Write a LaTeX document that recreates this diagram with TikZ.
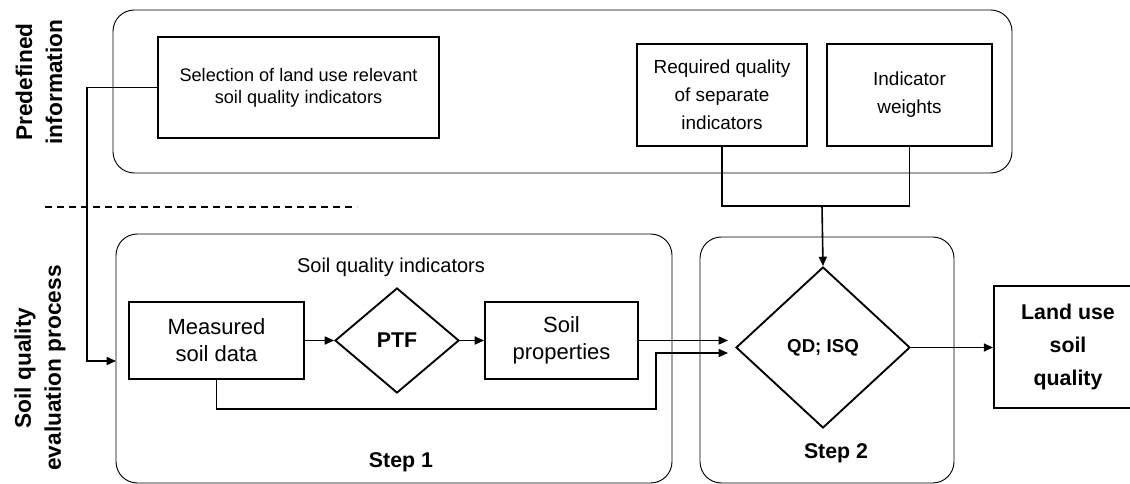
\documentclass[tikz,border=0pt]{standalone}
\usepackage{fontspec}
\setmainfont{Liberation Sans}
\usetikzlibrary{arrows.meta,shapes.geometric}
\tikzset{
  px/.style={x=0.75pt,y=-0.75pt},
  sbox/.style={draw, line width=1.4pt, inner sep=0pt, align=center},
  rbox/.style={draw, line width=0.7pt, rounded corners=16pt, inner sep=0pt},
  dia/.style={draw, diamond, line width=1.4pt, inner sep=0pt, align=center},
  conn/.style={line width=1.2pt},
  arr/.style={line width=1.2pt, -{Triangle[length=7pt,width=6pt]}},
  fsmall/.style={font=\fontsize{14.2}{21}\selectfont},
  fsel/.style={font=\fontsize{13.6}{16.5}\selectfont},
  fmid/.style={font=\fontsize{15}{18}\selectfont},
  fbig/.style={font=\fontsize{16.5}{20.3}\selectfont},
  fbold/.style={font=\fontsize{16}{24.8}\selectfont\bfseries},
  fside/.style={font=\fontsize{17}{22.5}\selectfont\bfseries},
}
\begin{document}
\begin{tikzpicture}[px]
\useasboundingbox (0,0) rectangle (1130,484);
% rounded group boxes
\node[rbox, minimum width={899*0.75pt}, minimum height={163*0.75pt}] (predef) at (562.5,91.5) {};
\node[rbox, minimum width={556*0.75pt}, minimum height={249*0.75pt}] (step1box) at (394,358.5) {};
\node[rbox, minimum width={254*0.75pt}, minimum height={246*0.75pt}] (step2box) at (827,360) {};
% side labels
\node[fside, rotate=90, align=center] (lblpre) at (39,82) {Predefined\\information};
\node[fside, rotate=90, align=center] (lblproc) at (40,368) {Soil quality\\evaluation process};
% dashed separator
\coordinate (d1) at (45,207);
\coordinate (d2) at (357,207);
\draw[dashed, line width=1pt, dash pattern=on 5pt off 4pt] (d1) -- (d2);
% predefined boxes
\node[sbox, fsel, minimum width={281*0.75pt}, minimum height={101*0.75pt}] (sel) at (298.5,87.5) {Selection of land use relevant\\soil quality indicators};
\node[sbox, fsmall, minimum width={170*0.75pt}, minimum height={102*0.75pt}] (req) at (722,95) {Required quality\\of separate\\indicators};
\node[sbox, fsmall, minimum width={165*0.75pt}, minimum height={102*0.75pt}] (wts) at (909.5,95) {Indicator\\weights};
% step 1
\node[fmid] (sqi) at (391,267) {Soil quality indicators};
\node[sbox, fbig, minimum width={175*0.75pt}, minimum height={77*0.75pt}] (meas) at (216.5,340.5) {Measured\\soil data};
\node[dia, fbold, minimum width={124*0.75pt}, minimum height={105*0.75pt}] (ptf) at (397,340.5) {PTF};
\node[sbox, fbig, minimum width={153*0.75pt}, minimum height={77*0.75pt}] (props) at (561.5,340.5) {Soil\\properties};
\node[fbold] (s1lbl) at (401,462) {Step 1};
% step 2
\node[dia, font=\fontsize{14}{16}\selectfont\bfseries, minimum width={174*0.75pt}, minimum height={161*0.75pt}] (qd) at (823,347.5) {QD; ISQ};
\node[fbold] (s2lbl) at (836,453) {Step 2};
% result (box runs past the right edge, as in the reference)
\node[sbox, fbold, minimum width={148*0.75pt}, minimum height={122*0.75pt}] (land) at (1068,347) {Land use\\soil\\quality};
% connectors
\coordinate (selturn) at (87,87.5);
\coordinate (s1in) at (116,361);
\draw[arr] (sel.west) -- (selturn) |- (s1in);
\coordinate (jn) at (822,206);
\draw[conn] (req.south) |- (jn) -| (wts.south);
\draw[arr] (jn) -- (qd.north);
\draw[arr] (meas.east) -- (ptf.west);
\draw[arr] (ptf.east) -- (props.west);
\coordinate (qin1) at (728,340.5);
\coordinate (qin2) at (728,353);
\draw[arr] (props.east) -- (qin1);
\coordinate (mb) at (216.5,409);
\coordinate (up) at (656,409);
\draw[arr] (meas.south) -- (mb) -- (up) |- (qin2);
\draw[arr] (qd.east) -- (qd.east -| land.west);
\end{tikzpicture}
\end{document}
